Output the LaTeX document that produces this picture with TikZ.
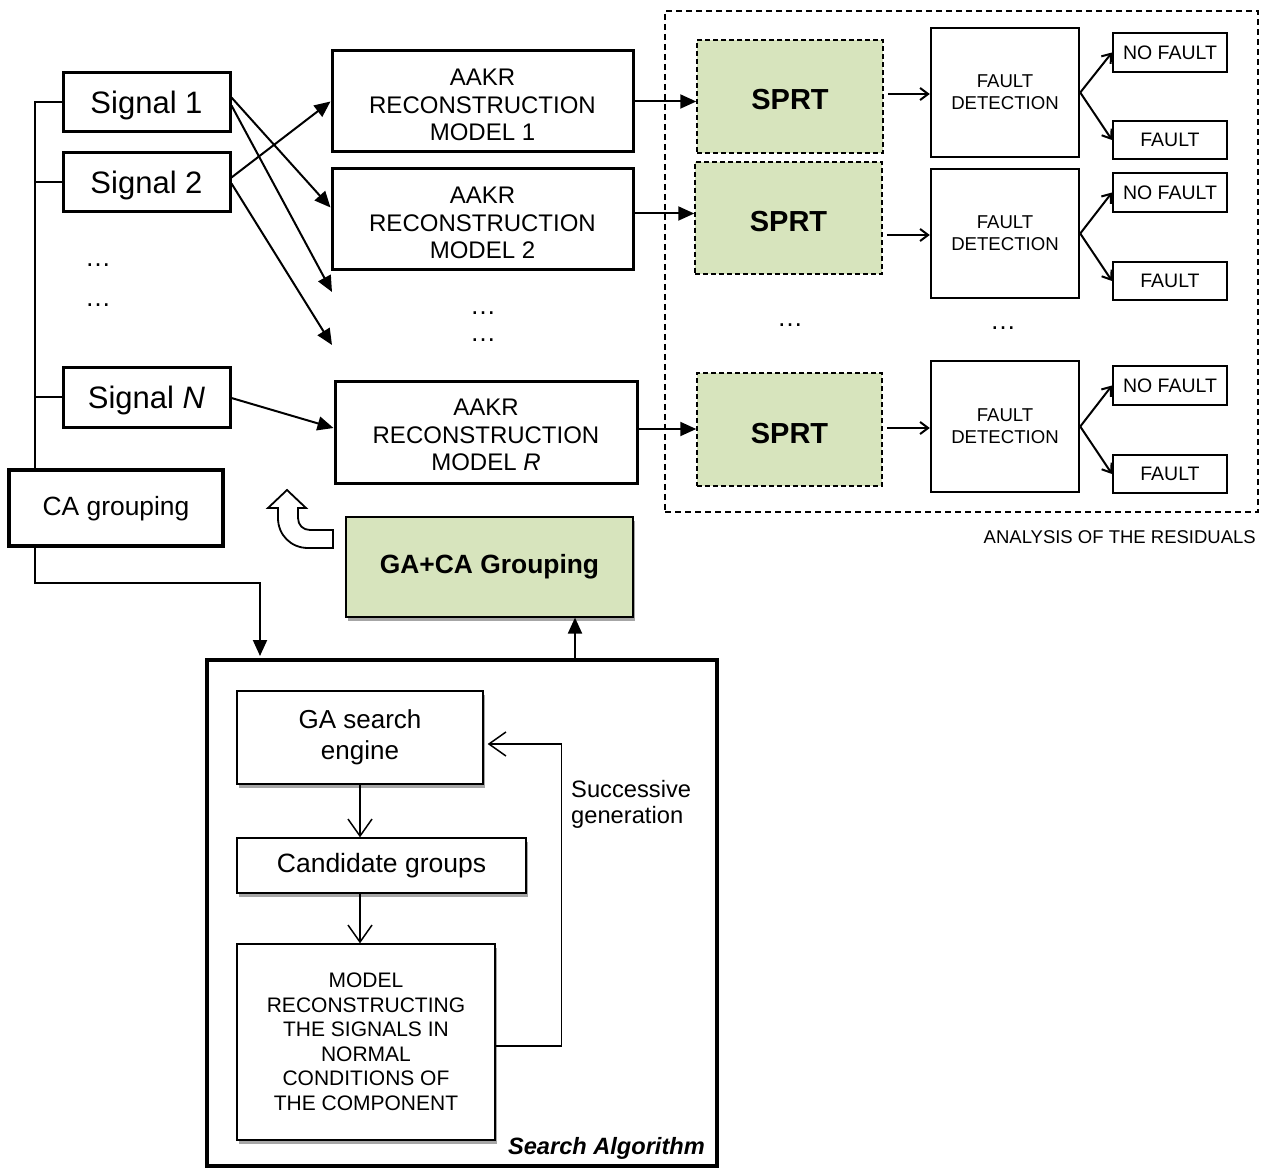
\documentclass[tikz,border=0pt]{standalone}
\usepackage{fontspec}
\setmainfont{Liberation Sans}
\usetikzlibrary{arrows.meta,shadows,calc}
\definecolor{sgreen}{HTML}{D7E4BD}
\begin{document}
\begin{tikzpicture}[x=1pt,y=-1pt,
  fs/.style 2 args={font=\fontsize{#1}{#2}\selectfont},
  box/.style={draw, rectangle, inner sep=0pt, align=center, fill=white},
  sig/.style={box, line width=3pt, minimum width=167pt, minimum height=59pt, fs={31}{37}, text height=28.5pt, text depth=6.5pt},
  aakr/.style={box, line width=3pt, minimum width=301pt, minimum height=101pt},
  aakrtext/.style={inner sep=0pt, align=center, fs={24}{27.5}},
  sprt/.style={box, dashed, dash pattern=on 5pt off 3pt, line width=1.5pt, fill=sgreen, minimum width=186pt, minimum height=113pt, font=\fontsize{29}{34}\selectfont\bfseries, text height=27pt, text depth=0pt},
  fdet/.style={box, line width=2.5pt, minimum width=148pt, minimum height=129pt, fs={18.6}{22}},
  res/.style={box, line width=2pt, minimum width=114pt, minimum height=38.5pt, fs={19.5}{23}},
  inner/.style={box, line width=1.3pt, drop shadow={shadow xshift=1.5pt, shadow yshift=-4pt, fill=gray!70, opacity=1}},
  dots/.style={inner sep=0pt, fs={26}{30}},
  arr/.style={-{Triangle[length=16pt,width=14pt]}, line width=2pt},
  barb/.style={-{Straight Barb[length=8pt,width=12pt]}, line width=2pt},
  vbarb/.style={-{Straight Barb[length=17pt,width=24pt]}, line width=1.5pt},
]
\useasboundingbox (0,0) rectangle (1262,1169);

% residual analysis frame
\node[draw, dashed, dash pattern=on 6pt off 4pt, line width=1.5pt, minimum width=593pt, minimum height=501pt, inner sep=0pt] (resfr) at (961.5,261.5) {};
\node[anchor=east, inner sep=0pt, fs={18.5}{22}] (reslbl) at (1256,537) {ANALYSIS OF THE RESIDUALS};

% signals
\node[sig] (s1) at (146.5,102.5) {Signal 1};
\node[sig] (s2) at (146.5,182.5) {Signal 2};
\node[sig, minimum height=60pt] (sN) at (146.5,397) {Signal \textit{N}};
\node[dots] (d1) at (98,265) {…};
\node[dots] (d2) at (98,305) {…};
\node[box, line width=4pt, minimum width=214pt, minimum height=76pt, fs={26.4}{31}, text height=21pt, text depth=5.5pt] (ca) at (116,508) {CA grouping};
\coordinate (bus) at ([xshift=-81pt]ca.north);
\coordinate (busb) at ([xshift=-81pt]ca.south);

% AAKR models
\node[aakr] (m1) at (482.5,101.5) {};
\node[aakrtext] (m1t) at ($(m1)+(0,3.5)$) {AAKR\\RECONSTRUCTION\\MODEL 1};
\node[aakr] (m2) at (482.5,219.5) {};
\node[aakrtext] (m2t) at ($(m2)+(0,3.5)$) {AAKR\\RECONSTRUCTION\\MODEL 2};
\node[aakr, minimum width=302pt, minimum height=102pt] (mR) at (486,432) {};
\node[aakrtext] (mRt) at ($(mR)+(0,3)$) {AAKR\\RECONSTRUCTION\\MODEL \textit{R}};
\node[dots] (d3) at (483,313) {…};
\node[dots] (d4) at (483,340) {…};

% SPRT
\node[sprt] (p1) at (790,96.5) {SPRT};
\node[sprt, minimum width=187pt, minimum height=112pt] (p2) at (788.5,218) {SPRT};
\node[sprt, minimum width=185pt] (p3) at (789.5,429.5) {SPRT};
\node[dots] (d5) at (790,325) {…};
\node[dots] (d6) at (1003,328) {…};

% fault detection
\node[fdet] (f1) at (1005,92.5) {FAULT\\DETECTION};
\node[fdet] (f2) at (1005,233.5) {FAULT\\DETECTION};
\node[fdet, minimum height=131pt] (f3) at (1005,426.5) {FAULT\\DETECTION};

\node[res] (n1) at (1170,52.5) {NO FAULT};
\node[res] (k1) at (1170,140) {FAULT};
\node[res] (n2) at (1170,192.5) {NO FAULT};
\node[res] (k2) at (1170,281) {FAULT};
\node[res] (n3) at (1170,385.5) {NO FAULT};
\node[res] (k3) at (1170,474) {FAULT};

% GA+CA grouping
\node[box, line width=1.2pt, fill=sgreen, minimum width=287pt, minimum height=100pt, font=\fontsize{26.4}{31}\selectfont\bfseries,
  drop shadow={shadow xshift=2pt, shadow yshift=-4pt, fill=gray!70, opacity=1}] (gc) at (489.5,567) {GA+CA Grouping};

% search algorithm
\node[draw, line width=4pt, minimum width=510pt, minimum height=506pt, inner sep=0pt] (sa) at (462,913) {};
\node[inner, minimum width=246pt, minimum height=93pt, fs={26}{31}] (gs) at (360,737.5) {GA search\\engine};
\node[inner, minimum width=289pt, minimum height=55pt, fs={26.5}{31}] (cg) at (381.5,865.5) {Candidate groups};
\node[inner, minimum width=258pt, minimum height=196pt, fs={21}{24.5}] (mo) at (366,1042) {MODEL\\RECONSTRUCTING\\THE SIGNALS IN\\NORMAL\\CONDITIONS OF\\THE COMPONENT};
\node[anchor=north west, inner sep=0pt, align=left, fs={23.7}{26}] (sg) at (571,780) {Successive\\generation};
\node[anchor=east, inner sep=0pt, font=\fontsize{23.6}{28}\selectfont\bfseries\itshape] (sal) at (705,1148) {Search Algorithm};

% left bus
\draw[line width=2pt] (bus) -- (bus |- s1.west) -- (s1.west);
\draw[line width=2pt] (s2.west) -- (s2.west -| bus);
\draw[line width=2pt] (sN.west) -- (sN.west -| bus);

% signal arrows
\coordinate (e1) at (332,292);
\coordinate (e2) at (332,345);
\draw[arr] ($(s1.east)+(0,-5)$) -- ($(m2.west)+(0,-12)$);
\draw[arr] ($(s1.east)+(0,3)$) -- (e1);
\draw[arr] ($(s2.east)+(0,-5)$) -- (m1.west);
\draw[arr] ($(s2.east)+(0,1)$) -- (e2);
\draw[arr] ($(sN.east)+(0,1)$) -- ($(mR.west)+(0,-4)$);

% models to SPRT
\draw[arr] (m1.east) -- (m1.east -| p1.west);
\draw[arr] ($(m2.east)+(0,-6)$) -- ($(m2.east -| p2.west)+(0,-6)$);
\draw[arr] ($(mR.east)+(0,-3)$) -- ($(mR.east -| p3.west)+(0,-3)$);

% SPRT to fault detection
\draw[barb] ($(p1.east |- f1.west)+(4,1.5)$) -- ($(f1.west)+(0,1.5)$);
\draw[barb] ($(p2.east |- f2.west)+(4,1.5)$) -- ($(f2.west)+(0,1.5)$);
\draw[barb] ($(p3.east |- f3.west)+(4,1.5)$) -- ($(f3.west)+(0,1.5)$);

% fault detection outputs
\foreach \f/\n/\k in {f1/n1/k1, f2/n2/k2, f3/n3/k3}{
  \draw[barb] (\f.east) -- (\n.west);
  \draw[barb] (\f.east) -- (\k.west);
}

% CA grouping to search algorithm
\coordinate (cab) at (260,583);
\draw[arr, shorten >=2pt] (busb) |- (cab) -- (cab |- sa.north);
% search algorithm to GA+CA
\draw[arr] ([xshift=113pt]sa.north) -- ([xshift=113pt]sa.north |- gc.south);

% curved hollow block arrow
\draw[line width=1.8pt, fill=white] (333,530) -- (310,530) .. controls (303,530) and (298,525) .. (298,518) -- (298,508) -- (306,508) -- (287,490) -- (268,508) -- (278,508) -- (278,518) .. controls (278,535) and (291,548) .. (308,548) -- (333,548) -- cycle;

% inner flow
\draw[vbarb] (gs.south) -- (gs.south |- cg.north);
\draw[vbarb] (gs.south |- cg.south) -- (gs.south |- mo.north);
\draw[vbarb] ([yshift=-4pt]mo.east) -- ++(66,0) |- ([xshift=4pt,yshift=-6.5pt]gs.east);

\end{tikzpicture}
\end{document}
